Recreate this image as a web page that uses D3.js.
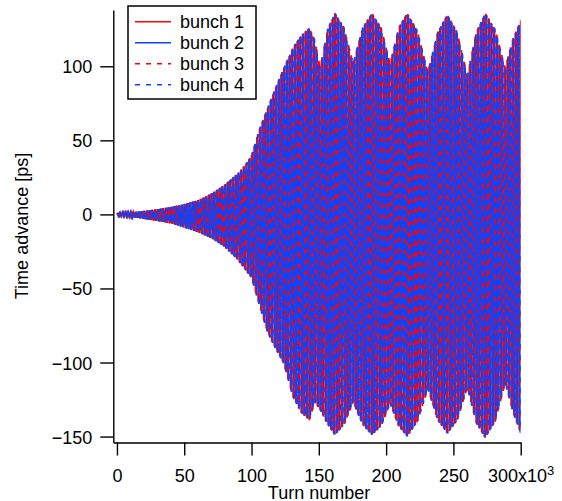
<!DOCTYPE html>
<html>
<head>
<meta charset="utf-8">
<script src="https://cdn.jsdelivr.net/npm/d3@7"></script>
<style>
  html, body { margin: 0; padding: 0; background: #fff; }
  svg { display: block; }
  text { font-family: "Liberation Sans", Arial, sans-serif; fill: #000; }
</style>
</head>
<body>
<svg id="chart" width="562" height="501"></svg>
<script>
// ---- Data ----
// Envelope of the oscillation (turn number in units of 10^3, time advance in ps)
const envTurns = [0, 10, 20, 30, 40, 50, 60, 70, 80, 90, 95, 100, 106, 112, 118, 124, 131, 137, 143, 147, 151,
  156.5, 162, 168.8, 175.5, 182.5, 189.5, 196.3, 203, 209.3, 215.6, 223.3, 231, 238.3, 245.5, 252.9, 260.3,
  267, 273.6, 281, 288.5, 294, 300];
const upperEnv = [1, 1.5, 2.3, 3.5, 5, 7, 9.5, 14, 20, 28, 33, 40, 58, 72, 86, 99, 113, 121, 126, 118, 99,
  125, 136, 126, 102, 126, 136, 126, 102, 126, 136, 124, 96, 123, 135, 123, 94,
  123, 136, 125, 99, 118, 131];
const lowerEnv = [-1, -1.5, -3, -4.5, -6, -9, -12, -16, -22, -31, -37, -43, -62, -80, -91, -101, -124, -134, -139, -127, -132,
  -142, -149, -142, -127, -142, -149, -143, -128, -143, -150, -140, -118, -139, -148, -139, -117,
  -141, -151, -140, -114, -133, -148];
// Fast oscillation: half period (10^3 turns) and per-bunch phase offset
const halfPeriod = 1.0;
const bunchNames = ["bunch 1", "bunch 2", "bunch 3", "bunch 4"];
const bunchPhase = [0, 0.5, 0.25, 0.75];
const xTicks = [0, 50, 100, 150, 200, 250, 300];
const yTicks = [-150, -100, -50, 0, 50, 100];

// ---- Styles ----
const RED = "#ff0000", BLUE = "#0a44ff";
const bunchStyle = [
  { color: RED, dash: null },
  { color: BLUE, dash: null },
  { color: RED, dash: "5,6" },
  { color: BLUE, dash: "5,6" }
];

const svg = d3.select("#chart");
const x = d3.scaleLinear().domain([-2.7, 300]).range([113.3, 520.7]);
const y = d3.scaleLinear().domain([-154, 138]).range([442.5, 10]);

const upperAt = d3.scaleLinear().domain(envTurns).range(upperEnv).clamp(true);
const lowerAt = d3.scaleLinear().domain(envTurns).range(lowerEnv).clamp(true);

svg.append("defs").append("clipPath").attr("id", "clip")
  .append("rect").attr("x", 113.3).attr("y", 0).attr("width", 520.7 - 113.3).attr("height", 442.5);

const plot = svg.append("g").attr("clip-path", "url(#clip)");
const line = d3.line().x(d => x(d[0])).y(d => y(d[1]));

bunchNames.forEach((name, b) => {
  const pts = [];
  let i = 0;
  for (let t = bunchPhase[b]; t <= 300; t += halfPeriod, i++) {
    pts.push([t, i % 2 === 0 ? upperAt(t) : lowerAt(t)]);
  }
  plot.append("path")
    .attr("d", line(pts))
    .attr("fill", "none")
    .attr("stroke", bunchStyle[b].color)
    .attr("stroke-width", 1.8)
    .attr("stroke-dasharray", bunchStyle[b].dash);
});

// ---- Axes ----
const fmtX = d => d;
const xAxis = svg.append("g").attr("transform", "translate(0,442.5)")
  .call(d3.axisBottom(x).tickValues(xTicks).tickSize(13).tickSizeOuter(0).tickPadding(13.5).tickFormat(fmtX));
const yAxis = svg.append("g").attr("transform", "translate(113.3,0)")
  .call(d3.axisLeft(y).tickValues(yTicks).tickSize(13).tickSizeOuter(0).tickPadding(8));

[xAxis, yAxis].forEach(g => {
  g.selectAll("path, line").attr("stroke", "#000").attr("stroke-width", 1.4);
  g.selectAll("text").attr("font-size", 18).attr("font-family", "Liberation Sans, Arial, sans-serif").attr("fill", "#000");
});
yAxis.selectAll(".tick text").attr("dy", "0.36em");
// 300x10^3 label
xAxis.selectAll(".tick text").filter(d => d === 300).each(function () {
  const t = d3.select(this);
  t.text("300x10");
  t.append("tspan").attr("font-size", 13).attr("dy", "-7").text("3");
});

svg.append("text").attr("x", 319).attr("y", 499).attr("text-anchor", "middle")
  .attr("font-size", 18).text("Turn number");
svg.append("text").attr("transform", "translate(28,226) rotate(-90)").attr("text-anchor", "middle")
  .attr("font-size", 18).text("Time advance [ps]");

// ---- Legend ----
const lg = svg.append("g");
lg.append("rect").attr("x", 128).attr("y", 6).attr("width", 128).attr("height", 93)
  .attr("fill", "#fff").attr("stroke", "#000").attr("stroke-width", 1.5);
bunchNames.forEach((name, b) => {
  const ry = 21.7 + b * 21;
  lg.append("line").attr("x1", 135).attr("x2", 171).attr("y1", ry).attr("y2", ry)
    .attr("stroke", bunchStyle[b].color).attr("stroke-width", 1.5)
    .attr("stroke-dasharray", bunchStyle[b].dash);
  lg.append("text").attr("x", 180).attr("y", ry + 6.5).attr("font-size", 18).text(name);
});
</script>
</body>
</html>
